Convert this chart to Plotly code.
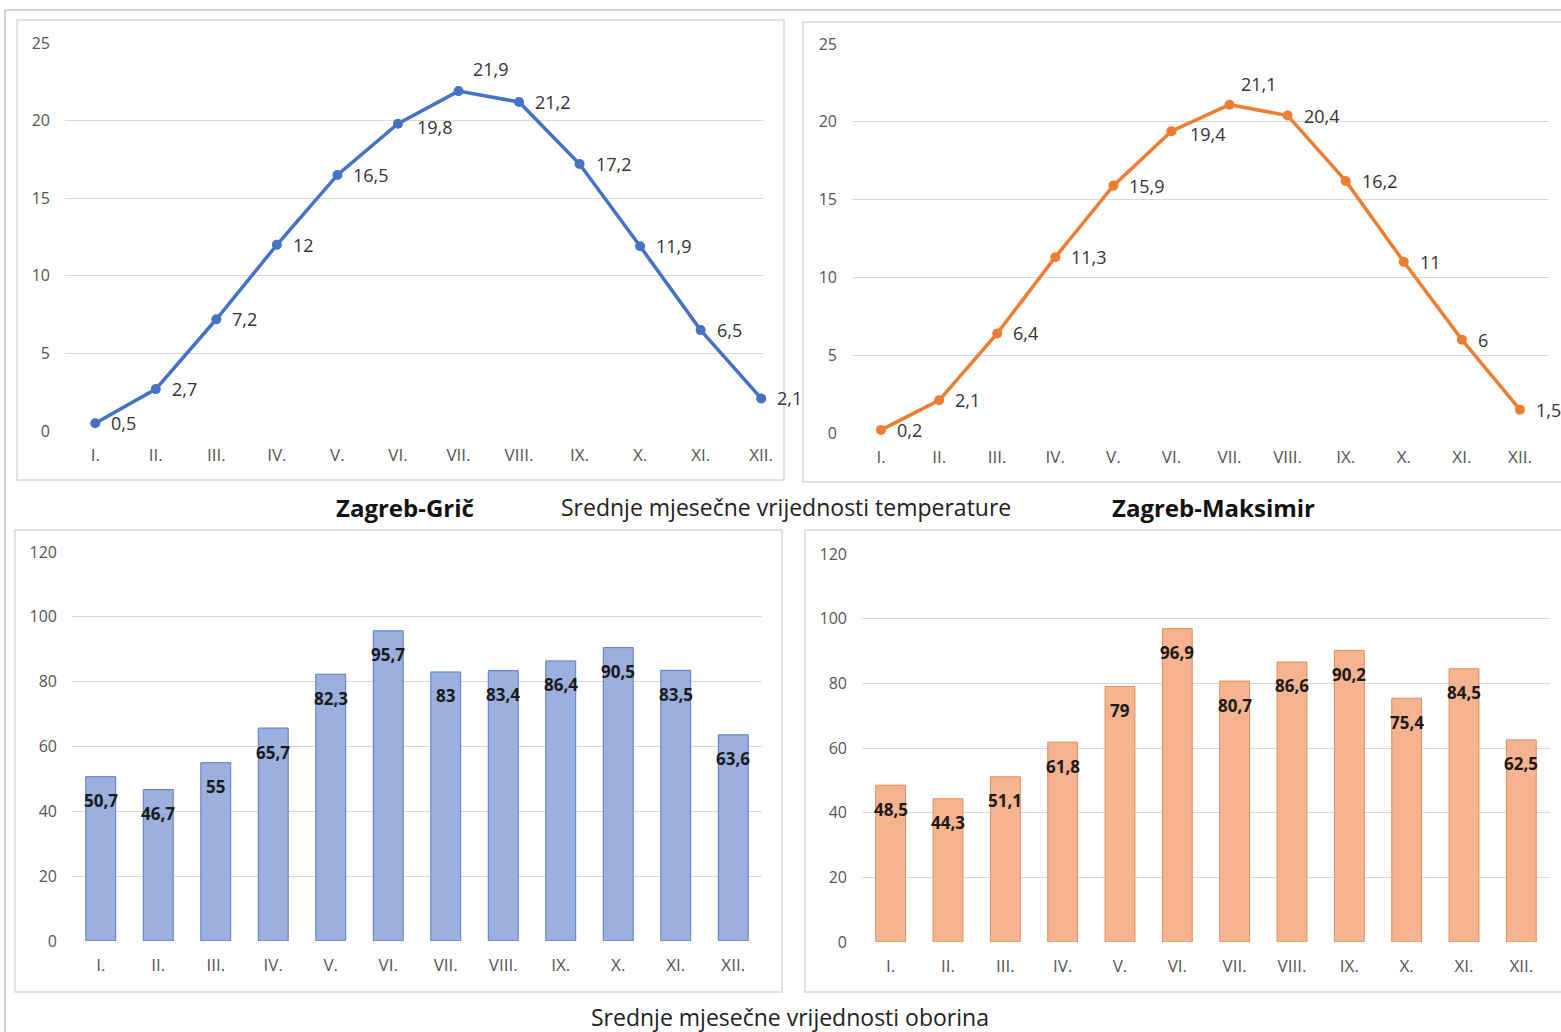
import plotly.graph_objects as go

W, H = 1561, 1032

months = ["I.", "II.", "III.", "IV.", "V.", "VI.", "VII.", "VIII.", "IX.", "X.", "XI.", "XII."]
temp_gric = [0.5, 2.7, 7.2, 12, 16.5, 19.8, 21.9, 21.2, 17.2, 11.9, 6.5, 2.1]
temp_maksimir = [0.2, 2.1, 6.4, 11.3, 15.9, 19.4, 21.1, 20.4, 16.2, 11, 6, 1.5]
rain_gric = [50.7, 46.7, 55, 65.7, 82.3, 95.7, 83, 83.4, 86.4, 90.5, 83.5, 63.6]
rain_maksimir = [48.5, 44.3, 51.1, 61.8, 79, 96.9, 80.7, 86.6, 90.2, 75.4, 84.5, 62.5]

title_gric = "Zagreb-Grič"
title_maks = "Zagreb-Maksimir"
title_temp = "Srednje mjesečne vrijednosti temperature"
title_rain = "Srednje mjesečne vrijednosti oborina"

FONT = "Open Sans"
BLUE = "#4472C4"
ORANGE = "#ED7D31"


def fmt(v):
    return ("%g" % v).replace(".", ",")


def px_x(p):
    return p / W


def px_y(p):
    return 1 - p / H


fig = go.Figure()

fig.add_trace(go.Scatter(x=months, y=temp_gric, mode="lines+markers",
                         line=dict(color=BLUE, width=3.5), marker=dict(size=10, color=BLUE),
                         xaxis="x", yaxis="y", cliponaxis=False, hoverinfo="skip"))
fig.add_trace(go.Scatter(x=months, y=temp_maksimir, mode="lines+markers",
                         line=dict(color=ORANGE, width=3.5), marker=dict(size=10, color=ORANGE),
                         xaxis="x2", yaxis="y2", cliponaxis=False, hoverinfo="skip"))
fig.add_trace(go.Bar(x=months, y=rain_gric, width=0.52,
                     marker=dict(color="#9bb0de", line=dict(color="#5a79c0", width=1)),
                     xaxis="x3", yaxis="y3", hoverinfo="skip"))
fig.add_trace(go.Bar(x=months, y=rain_maksimir, width=0.52,
                     marker=dict(color="#f5b48f", line=dict(color="#de8d5a", width=1)),
                     xaxis="x4", yaxis="y4", hoverinfo="skip"))

annotations = []


def line_labels(vals, xa, ya, peak_idx, peak_shift, sub_idx):
    for i, (m, v) in enumerate(zip(months, vals)):
        xs, ys = 14, 0
        if i == peak_idx:
            xs, ys = peak_shift
        elif i == sub_idx:
            xs, ys = 17, -3
        annotations.append(dict(x=m, y=v, xref=xa, yref=ya, text=fmt(v), showarrow=False,
                                xanchor="left", yanchor="middle", xshift=xs, yshift=ys,
                                font=dict(family=FONT, size=18, color="#333333")))


line_labels(temp_gric, "x", "y", 6, (12, 22), 5)
line_labels(temp_maksimir, "x2", "y2", 6, (9, 21), 5)


def bar_labels(vals, xa, ya):
    for m, v in zip(months, vals):
        annotations.append(dict(x=m, y=v, xref=xa, yref=ya, text=fmt(v), showarrow=False,
                                xanchor="center", yanchor="middle", yshift=-24,
                                font=dict(family=FONT, size=17, color="#1a1a1a", weight="bold")))


bar_labels(rain_gric, "x3", "y3")
bar_labels(rain_maksimir, "x4", "y4")

annotations += [
    dict(x=px_x(405), y=px_y(507), xref="paper", yref="paper", text="<b>" + title_gric + "</b>",
         xanchor="center", yanchor="middle", showarrow=False,
         font=dict(family=FONT, size=24, color="#111")),
    dict(x=px_x(786), y=px_y(507), xref="paper", yref="paper", text=title_temp,
         xanchor="center", yanchor="middle", showarrow=False,
         font=dict(family=FONT, size=23, color="#222")),
    dict(x=px_x(1213), y=px_y(507), xref="paper", yref="paper", text="<b>" + title_maks + "</b>",
         xanchor="center", yanchor="middle", showarrow=False,
         font=dict(family=FONT, size=24, color="#111")),
    dict(x=px_x(790), y=px_y(1017), xref="paper", yref="paper", text=title_rain,
         xanchor="center", yanchor="middle", showarrow=False,
         font=dict(family=FONT, size=23, color="#222")),
]

shapes = []


def rect(x0, y0, x1, y1, color="#d9d9d9"):
    shapes.append(dict(type="rect", xref="paper", yref="paper",
                       x0=px_x(x0), x1=px_x(x1), y0=px_y(y1), y1=px_y(y0),
                       line=dict(color=color, width=1.5), fillcolor="rgba(0,0,0,0)", layer="below"))


rect(17, 20, 784, 480)
rect(803, 22, 1580, 482)
rect(15, 530, 782, 992)
rect(805, 530, 1580, 992)
shapes.append(dict(type="line", xref="paper", yref="paper", x0=px_x(5), x1=1.01, y0=px_y(10), y1=px_y(10),
                   line=dict(color="#c0c0c0", width=1.5)))
shapes.append(dict(type="line", xref="paper", yref="paper", x0=px_x(5), x1=px_x(5), y0=px_y(10), y1=-0.01,
                   line=dict(color="#c0c0c0", width=1.5)))

xtickfont = dict(family=FONT, size=17, color="#555555")
ytickfont = dict(family=FONT, size=16, color="#555555")


def xaxis(d, rng, anchor):
    return dict(domain=[px_x(d[0]), px_x(d[1])], range=rng, anchor=anchor, type="category",
                showgrid=False, zeroline=False, showline=False, ticks="", tickfont=xtickfont,
                ticklabelstandoff=12, fixedrange=True)


def yaxis(d, rng, dtick, anchor):
    return dict(domain=[px_y(d[0]), px_y(d[1])], range=rng, anchor=anchor, dtick=dtick,
                showgrid=True, gridcolor="#d9d9d9", gridwidth=1, zeroline=False, showline=False,
                ticks="", tickfont=ytickfont, ticklabelstandoff=14, fixedrange=True)


fig.update_layout(
    width=W, height=H, margin=dict(l=0, r=0, t=0, b=0, autoexpand=False),
    paper_bgcolor="white", plot_bgcolor="white", showlegend=False,
    xaxis=xaxis((65, 763), [-0.5, 11.03], "y"),
    yaxis=yaxis((431, 43), [0, 25], 5, "x"),
    xaxis2=xaxis((852, 1549), [-0.5, 11.5], "y2"),
    yaxis2=yaxis((433, 44), [0, 25], 5, "x2"),
    xaxis3=xaxis((72, 762), [-0.5, 11.5], "y3"),
    yaxis3=yaxis((941, 552), [0, 120], 20, "x3"),
    xaxis4=xaxis((862, 1550), [-0.5, 11.5], "y4"),
    yaxis4=yaxis((942, 554), [0, 120], 20, "x4"),
    annotations=annotations, shapes=shapes, bargap=0.48,
)

fig.write_html("out.html", config={"displayModeBar": False},
               post_script="document.body.style.margin='0';document.body.style.overflow='hidden';")
